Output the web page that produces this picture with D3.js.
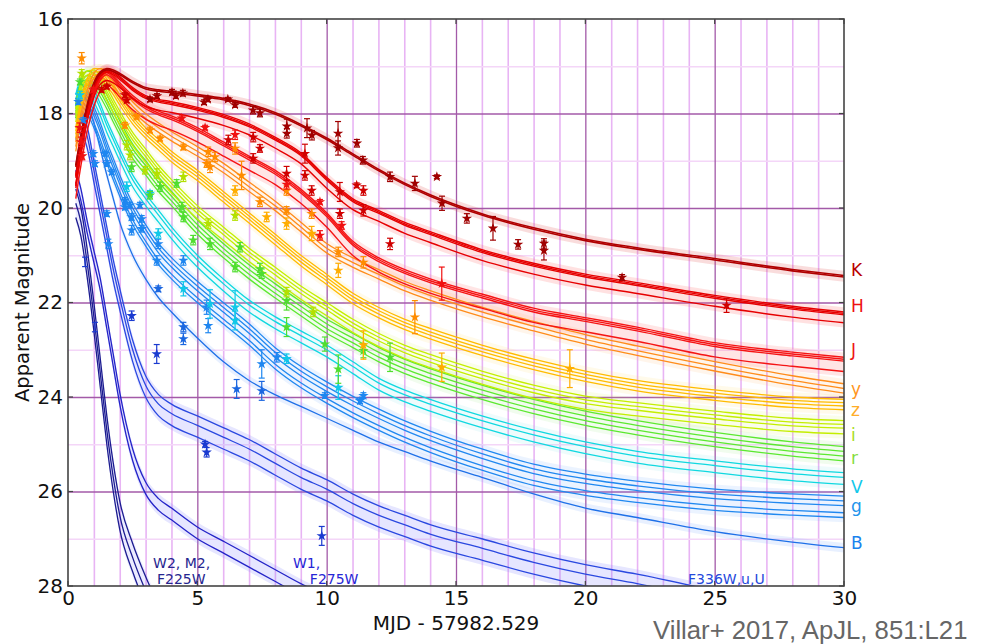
<!DOCTYPE html>
<html><head><meta charset="utf-8">
<script src="https://cdn.jsdelivr.net/npm/d3@7"></script>
<style>body{margin:0;background:#fff;} svg{display:block;font-family:"DejaVu Sans",sans-serif;}</style>
</head><body><svg id="c" width="981" height="644"></svg>
<script>
// ---------------- DATA ----------------
const days = [0.3,0.5,0.75,1,1.25,1.5,1.75,2,2.5,3,3.5,4,5,6,7,8,9,10,11,12,13,14,16,18,20,22,25,28,30];
const magK  = [19.1,18.45,17.8,17.35,17.12,17.05,17.08,17.15,17.32,17.45,17.5,17.53,17.6,17.68,17.8,17.98,18.23,18.52,18.85,19.18,19.47,19.72,20.12,20.42,20.66,20.84,21.07,21.3,21.43];
const magH  = [19.3,18.6,17.9,17.42,17.15,17.07,17.12,17.22,17.45,17.62,17.7,17.75,17.87,18.02,18.22,18.5,18.83,19.35,19.8,20.05,20.3,20.5,20.88,21.17,21.4,21.58,21.85,22.08,22.2];
const magJ  = [19.5,18.8,18.05,17.55,17.22,17.1,17.2,17.35,17.62,17.82,17.95,18.05,18.3,18.6,18.9,19.2,19.6,20.1,20.7,21.05,21.3,21.5,21.82,22.12,22.32,22.52,22.85,23.05,23.16];
const magY  = [18.6,18.0,17.5,17.15,17.05,17.1,17.22,17.4,17.75,18.0,18.2,18.38,18.7,19.05,19.45,19.85,20.3,20.75,21.05,21.3,21.55,21.75,22.1,22.4,22.68,22.92,23.25,23.55,23.72];
const magZ  = [18.3,17.7,17.25,17.05,17.05,17.2,17.38,17.6,18.0,18.3,18.55,18.8,19.2,19.65,20.1,20.55,21.0,21.4,21.8,22.1,22.35,22.55,22.9,23.2,23.45,23.65,23.85,24.0,24.05];
const magI  = [17.9,17.35,17.1,17.08,17.2,17.45,17.7,17.95,18.4,18.75,19.1,19.4,19.95,20.4,20.85,21.25,21.65,22.0,22.35,22.65,22.9,23.1,23.45,23.75,23.98,24.12,24.3,24.45,24.5];
const magR  = [17.8,17.3,17.1,17.15,17.35,17.6,17.88,18.15,18.65,19.0,19.35,19.65,20.25,20.75,21.2,21.6,21.98,22.35,22.65,22.95,23.2,23.4,23.75,24.05,24.3,24.5,24.75,24.95,25.05];
const magV  = [17.6,17.3,17.3,17.5,17.8,18.15,18.45,18.75,19.3,19.7,20.05,20.4,21.0,21.5,21.95,22.3,22.6,22.9,23.25,23.6,23.85,24.05,24.4,24.7,24.95,25.15,25.35,25.52,25.6];
const magG  = [17.6,17.4,17.55,17.85,18.2,18.6,18.95,19.3,19.9,20.35,20.75,21.05,21.55,22.0,22.45,22.95,23.35,23.68,23.98,24.25,24.5,24.72,25.1,25.42,25.63,25.78,25.95,26.05,26.1];
const magB  = [17.75,17.55,17.75,18.2,18.75,19.3,19.8,20.3,21.0,21.5,21.9,22.2,22.75,23.25,23.65,23.95,24.2,24.45,24.7,24.95,25.15,25.35,25.7,26.05,26.35,26.55,26.85,27.07,27.19];
const magU  = [18.3,18.15,18.5,19.2,19.9,20.6,21.3,21.9,23.0,23.75,24.15,24.35,24.6,24.85,25.1,25.4,25.7,25.95,26.25,26.5,26.7,26.9,27.2,27.5,27.75,27.95,28.3,null,null];
const magW1 = [19.2,19.6,20.3,20.9,21.5,22.3,23.1,23.9,25.1,25.8,26.15,26.35,26.75,27.05,27.35,27.65,27.95,28.2,null,null,null,null,null,null,null,null,null,null,null];
const magW2 = [19.6,20.0,20.9,22.0,23.2,24.4,25.4,26.2,27.1,27.8,28.4,null,null,null,null,null,null,null,null,null,null,null,null,null,null,null,null,null,null];

// spread of the individual filter/instrument curves within each band (mag)
const offK=[0,0.03], offH=[0,0.03,0.06,0.23], offJ=[0,0.04,0.08,0.3], offY=[0,0.1,0.2],
      offZ=[0,0.07,0.14,0.22], offI=[0,0.08,0.16,0.28], offR=[0,0.1,0.2,0.3], offV=[0,0.1,0.25],
      offG=[0,0.1,0.2,0.35,0.45], offB=[0], offU=[-0.2,0,0.25], offW1=[0,0.25], offW2=[0,0.3,0.6];

// observed points: [day, mag, error]
const ptsK = [[3.17,17.70,0.05],[3.44,17.63,0.05],[4.02,17.55,0.06],[4.17,17.63,0.05],[4.44,17.57,0.06],[5.26,17.76,0.05],[5.41,17.70,0.05],[6.18,17.70,0.04],[6.46,17.82,0.05],[7.15,17.93,0.08],[7.42,17.99,0.08],[8.46,18.27,0.15],[8.46,18.42,0.1],[9.24,18.31,0.2],[9.43,18.46,0.1],[10.44,18.42,0.25],[10.44,18.73,0.15],[11.17,18.63,0.08],[11.40,18.99,0.08],[12.45,19.34,0.1],[13.41,19.48,0.15],[14.26,19.34,0.04],[14.46,19.90,0.15],[15.42,20.22,0.1],[16.43,20.43,0.25],[17.40,20.77,0.1],[18.40,20.90,0.2],[18.40,20.75,0.1],[21.42,21.47,0.06]];
const ptsH = [[1.3,17.5,0.05],[1.5,17.43,0.05],[2.2,17.61,0.05],[2.27,17.72,0.05],[6.2,18.56,0.1],[7.16,18.5,0.1],[7.16,18.95,0.1],[7.42,18.74,0.08],[8.45,19.27,0.15],[9.16,18.85,0.2],[9.16,19.31,0.1],[9.42,19.63,0.1],[10.51,19.66,0.2],[10.51,20.12,0.1],[11.16,19.52,0.05],[11.42,19.63,0.1],[11.42,20.05,0.12],[12.45,20.76,0.12],[25.46,22.06,0.15]];
const ptsJ = [[0.45,18.3,0.1],[0.5,18.6,0.1],[0.55,18.9,0.08],[0.98,17.5,0.05],[4.4,18.1,0.05],[5.3,18.3,0.05],[6.46,18.45,0.1],[8.45,19.5,0.1],[9.74,19.87,0.05],[9.74,20.58,0.1],[10.58,20.37,0.08],[14.45,21.6,0.35]];
const ptsY = [[0.53,16.83,0.12],[2.2,18.25,0.06],[2.65,18.07,0.05],[3.17,18.35,0.06],[3.56,18.53,0.05],[4.46,18.71,0.06],[5.36,19.06,0.08],[5.42,18.81,0.1],[5.49,19.13,0.12],[5.68,18.92,0.1],[6.46,18.74,0.12],[6.71,19.31,0.3],[7.42,19.87,0.1],[8.45,19.63,0.1],[8.45,20.05,0.08],[9.42,20.12,0.1],[10.45,20.93,0.1],[11.42,21.15,0.12],[13.41,22.31,0.35]];
const ptsZ = [[6.46,19.63,0.1],[7.68,20.19,0.1],[8.45,20.33,0.12],[9.42,20.54,0.15],[10.45,21.32,0.15],[11.42,22.9,0.3],[14.45,23.37,0.3],[19.4,23.4,0.4]];
const ptsI = [[0.53,17.15,0.08],[2.27,18.67,0.1],[2.4,18.88,0.1],[2.98,19.2,0.08],[3.43,19.27,0.1],[4.46,19.34,0.1],[5.42,20.33,0.1],[6.46,20.16,0.1],[8.45,21.78,0.1],[9.48,22.2,0.1]];
const ptsR = [[0.46,17.33,0.06],[2.46,19.13,0.1],[3.17,19.73,0.08],[3.56,19.55,0.1],[4.2,19.48,0.08],[4.4,19.98,0.1],[4.46,20.19,0.1],[4.84,20.68,0.1],[5.49,20.76,0.12],[6.65,20.83,0.1],[6.46,21.25,0.1],[7.49,21.39,0.1],[7.42,21.29,0.12],[8.45,21.96,0.2],[8.45,22.52,0.2],[9.93,22.88,0.15],[10.45,23.41,0.3],[12.45,23.16,0.3],[11.42,23.02,0.15]];
const ptsV = [[0.46,17.61,0.08],[2.27,19.55,0.1],[3.17,19.69,0.06],[3.49,20.54,0.1],[4.46,21.71,0.15],[5.49,22.03,0.3],[6.46,22.38,0.2],[6.46,22.1,0.35],[8.45,23.19,0.1],[10.45,23.8,0.25]];
const ptsG = [[0.4,17.75,0.06],[0.59,18.14,0.05],[0.98,18.85,0.06],[1.04,19.06,0.06],[1.5,19.06,0.06],[1.43,18.85,0.05],[1.69,19.24,0.05],[2.2,19.84,0.06],[2.4,19.94,0.06],[2.78,19.94,0.06],[1.5,20.12,0.06],[1.56,20.76,0.1],[2.2,19.98,0.06],[2.46,20.19,0.07],[2.46,20.47,0.1],[2.85,20.23,0.07],[2.85,20.44,0.07],[3.49,20.76,0.1],[3.43,21.11,0.1],[4.46,21.11,0.1],[5.36,22.1,0.15],[5.42,22.49,0.15],[7.49,23.3,0.3],[8.07,23.16,0.1],[9.93,23.97,0.06],[11.29,24.08,0.06],[11.42,23.97,0.06]];
const ptsB = [[3.49,21.71,0.06],[4.46,22.52,0.1],[4.46,22.77,0.12],[6.52,23.83,0.2],[7.49,23.87,0.2]];
const ptsUV = [[2.46,22.28,0.1],[3.43,23.09,0.2],[5.3,25.0,0.06],[5.36,25.17,0.1],[9.81,26.94,0.2]];
const barsUV = [[0.66,21.14,0.1],[1.04,22.52,0.1]];   // error bars only, no symbol

const bandNames = ["K","H","J","y","z","i","r","V","g","B"];
const bandLabelMags = [21.43,22.21,23.14,23.96,24.4,24.93,25.42,26.03,26.43,27.21];
const xMajor = [0,5,10,15,20,25,30];
const xMinor = [1,2,3,4,6,7,8,9,11,12,13,14,16,17,18,19,21,22,23,24,26,27,28,29];
const yMajor = [16,18,20,22,24,26,28];
const yMinor = [17,19,21,23,25,27];

// ---------------- STYLE / LAYOUT ----------------
const L=68,R=844,T=19,B=586;
const svg = d3.select("#c");
const x = d3.scaleLinear().domain([0,30]).range([L,R]);
const y = d3.scaleLinear().domain([16,28]).range([T,B]);

const series = [
  {mags:magK, off:offK, color:"#b00000", w:1.6, shade:"rgba(220,60,60,0.18)", pts:ptsK, pc:"#a00000"},
  {mags:magH, off:offH, color:"#e60000", w:1.4, shade:"rgba(255,90,90,0.18)", pts:ptsH, pc:"#d00000"},
  {mags:magJ, off:offJ, color:"#f51414", w:1.4, shade:"rgba(255,110,110,0.18)", pts:ptsJ, pc:"#f01010"},
  {mags:magY, off:offY, color:"#ff8c1a", w:1.3, shade:"rgba(255,170,90,0.12)", pts:ptsY, pc:"#ff8c00"},
  {mags:magZ, off:offZ, color:"#ffbb00", w:1.3, shade:"rgba(255,210,80,0.12)", pts:ptsZ, pc:"#ffad00"},
  {mags:magI, off:offI, color:"#c4ee00", w:1.3, shade:"rgba(210,240,80,0.12)", pts:ptsI, pc:"#b4e000"},
  {mags:magR, off:offR, color:"#5ce830", w:1.3, shade:"rgba(120,230,90,0.10)", pts:ptsR, pc:"#50dd30"},
  {mags:magV, off:offV, color:"#10d8e0", w:1.3, shade:"rgba(90,220,230,0.10)", pts:ptsV, pc:"#10c8e8"},
  {mags:magG, off:offG, color:"#2088f0", w:1.3, shade:"rgba(110,170,255,0.14)", pts:ptsG, pc:"#1e86f0"},
  {mags:magB, off:offB, color:"#1e70e8", w:1.3, shade:"rgba(110,160,255,0.16)", pts:ptsB, pc:"#1a66e0"},
  {mags:magU, off:offU, color:"#2a48e0", w:1.3, shade:"rgba(130,130,255,0.2)", pts:ptsUV, pc:"#1a3ad0", bars:barsUV},
  {mags:magW1,off:offW1,color:"#2323c8", w:1.3, shade:"rgba(130,130,255,0.2)", pts:[], pc:"#2222c0"},
  {mags:magW2,off:offW2,color:"#1c1c90", w:1.3, shade:"rgba(130,130,255,0.15)", pts:[], pc:"#1c1c90"}
];
const labelColors = ["#b80000","#ee1010","#ee1515","#ff961e","#ffad28","#a8dc22","#84dc40","#12c8ea","#2294ec","#1a82ee"];

// grid
const g0 = svg.append("g");
g0.append("rect").attr("x",L).attr("y",T).attr("width",R-L).attr("height",B-T).attr("fill","#fff");
g0.append("g").attr("transform",`translate(0,${B})`)
  .call(d3.axisBottom(x).tickValues(xMinor).tickSize(-(B-T)).tickFormat(""))
  .call(s=>{s.select(".domain").remove(); s.selectAll("line").attr("stroke","#e8b4f4").attr("stroke-width",1.6);});
g0.append("g").attr("transform",`translate(${L},0)`)
  .call(d3.axisLeft(y).tickValues(yMinor).tickSize(-(R-L)).tickFormat(""))
  .call(s=>{s.select(".domain").remove(); s.selectAll("line").attr("stroke","#f4d6f8").attr("stroke-width",1.6);});
g0.append("g").attr("transform",`translate(0,${B})`)
  .call(d3.axisBottom(x).tickValues(xMajor.slice(1,-1)).tickSize(-(B-T)).tickFormat(""))
  .call(s=>{s.select(".domain").remove(); s.selectAll("line").attr("stroke","#a35aa8").attr("stroke-width",1.3);});
g0.append("g").attr("transform",`translate(${L},0)`)
  .call(d3.axisLeft(y).tickValues(yMajor.slice(1,-1)).tickSize(-(R-L)).tickFormat(""))
  .call(s=>{s.select(".domain").remove(); s.selectAll("line").attr("stroke","#a35aa8").attr("stroke-width",1.3);});

// clip
svg.append("defs").append("clipPath").attr("id","clip").append("rect")
  .attr("x",L).attr("y",T).attr("width",R-L).attr("height",B-T);
const plot = svg.append("g").attr("clip-path","url(#clip)");

const curve = d3.curveMonotoneX;
// shading
series.forEach(s=>{
  const lo = d3.min(s.off)-0.1, hi = d3.max(s.off)+0.1;
  const area = d3.area().defined(d=>d!=null).curve(curve)
    .x((d,i)=>x(days[i])).y0(d=>y(d+lo)).y1(d=>y(d+hi));
  plot.append("path").datum(s.mags).attr("d",area).attr("fill",s.shade).attr("stroke","none");
});
// model lines
series.slice().reverse().forEach(s=>{
  s.off.forEach(o=>{
    const line = d3.line().defined(d=>d!=null).curve(curve)
      .x((d,i)=>x(days[i])).y(d=>y(d+o));
    plot.append("path").datum(s.mags).attr("d",line).attr("fill","none")
      .attr("stroke",s.color).attr("stroke-width",s.w);
  });
});
// points
const star = d3.symbol().type(d3.symbolStar).size(34);
function errBar(gp,p){
  const px=x(p[0]), y1=y(p[1]-p[2]), y2=y(p[1]+p[2]);
  gp.append("line").attr("x1",px).attr("x2",px).attr("y1",y1).attr("y2",y2).attr("stroke-width",1.2);
  gp.append("line").attr("x1",px-3).attr("x2",px+3).attr("y1",y1).attr("y2",y1).attr("stroke-width",1.2);
  gp.append("line").attr("x1",px-3).attr("x2",px+3).attr("y1",y2).attr("y2",y2).attr("stroke-width",1.2);
}
series.slice().reverse().forEach(s=>{
  const gp = plot.append("g").attr("stroke",s.pc).attr("fill",s.pc);
  s.pts.forEach(p=>{
    errBar(gp,p);
    gp.append("path").attr("d",star).attr("transform",`translate(${x(p[0])},${y(p[1])})`).attr("stroke","none");
  });
  (s.bars||[]).forEach(p=>errBar(gp,p));
});

// frame + inward ticks
svg.append("rect").attr("x",L).attr("y",T).attr("width",R-L).attr("height",B-T)
  .attr("fill","none").attr("stroke","#444").attr("stroke-width",1.6);
const tk = svg.append("g").attr("stroke","#444").attr("stroke-width",1.2);
xMajor.forEach(v=>{tk.append("line").attr("x1",x(v)).attr("x2",x(v)).attr("y1",B).attr("y2",B-5);
                   tk.append("line").attr("x1",x(v)).attr("x2",x(v)).attr("y1",T).attr("y2",T+5);});
yMajor.forEach(v=>{tk.append("line").attr("x1",L).attr("x2",L+5).attr("y1",y(v)).attr("y2",y(v));
                   tk.append("line").attr("x1",R).attr("x2",R-5).attr("y1",y(v)).attr("y2",y(v));});

// tick labels
svg.append("g").attr("transform",`translate(0,${B})`)
  .call(d3.axisBottom(x).tickValues(xMajor).tickSize(0).tickPadding(5).tickFormat(d3.format("d")))
  .call(s=>{s.select(".domain").remove(); s.selectAll("text").attr("font-size",20).attr("font-family","DejaVu Sans").attr("fill","#111");});
svg.append("g").attr("transform",`translate(${L},0)`)
  .call(d3.axisLeft(y).tickValues(yMajor).tickSize(0).tickPadding(5).tickFormat(d3.format("d")))
  .call(s=>{s.select(".domain").remove(); s.selectAll("text").attr("font-size",20).attr("font-family","DejaVu Sans").attr("fill","#111");});

// axis titles
svg.append("text").attr("transform",`translate(29,${(T+B)/2}) rotate(-90)`).attr("text-anchor","middle")
  .attr("font-size",19.5).attr("fill","#111").text("Apparent Magnitude");
svg.append("text").attr("x",(L+R)/2).attr("y",630).attr("text-anchor","middle")
  .attr("font-size",20).attr("fill","#111").text("MJD - 57982.529");

// band labels
bandNames.forEach((n,i)=>{
  svg.append("text").attr("x",851).attr("y",y(bandLabelMags[i])).attr("font-size",17)
    .attr("fill",labelColors[i]).text(n);
});

// UV group labels
const uvLabels = [
  {t:3.29, m:27.62, s:"W2, M2,", c:"#26268f"},
  {t:3.44, m:27.96, s:"F225W", c:"#26268f"},
  {t:8.70, m:27.62, s:"W1,", c:"#2626d6"},
  {t:9.35, m:27.96, s:"F275W", c:"#2626d6"},
  {t:23.97,m:27.96, s:"F336W,u,U", c:"#2448dc"}
];
uvLabels.forEach(d=>svg.append("text").attr("x",x(d.t)).attr("y",y(d.m)).attr("font-size",14)
  .attr("fill",d.c).text(d.s));

// citation
svg.append("text").attr("x",653).attr("y",639).attr("font-family","Liberation Sans, Arial, sans-serif")
  .attr("font-size",25.7).attr("fill","#666").text("Villar+ 2017, ApJL, 851:L21");
</script></body></html>
